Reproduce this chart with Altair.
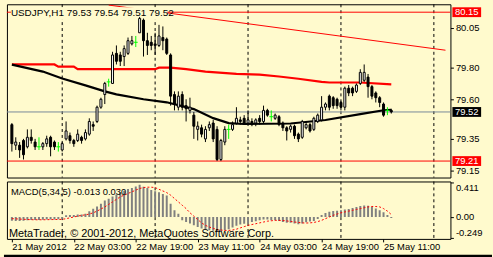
import altair as alt
import pandas as pd

BG = "#FFFACD"
FONT = "Liberation Sans"

symbol = "USDJPY"
timeframe = "H1"

opens = [79.44,79.31,79.31,79.34,79.30,79.36,79.33,79.30,79.30,79.32,
         79.36,79.33,79.30,79.28,79.35,79.37,79.34,79.34,79.36,79.35,
         79.38,79.44,79.46,79.55,79.63,79.71,79.70,79.89,79.88,79.87,
         79.89,79.95,79.96,80.02,80.10,79.97,79.96,79.95,79.94,79.99,
         79.98,79.88,79.63,79.55,79.63,79.56,79.53,79.50,79.41,79.42,
         79.35,79.42,79.45,79.41,79.22,79.33,79.41,79.41,79.45,79.47,
         79.48,79.45,79.46,79.45,79.48,79.46,79.53,79.49,79.48,79.49,
         79.45,79.42,79.41,79.43,79.38,79.36,79.42,79.44,79.41,79.46,
         79.47,79.55,79.62,79.61,79.60,79.58,79.55,79.67,79.67,79.65,
         79.70,79.72,79.74,79.68,79.64,79.61,79.57,79.53,79.53]
highs = [79.45,79.36,79.33,79.35,79.41,79.41,79.35,79.36,79.33,79.37,
         79.37,79.34,79.33,79.33,79.46,79.39,79.35,79.41,79.37,79.41,
         79.48,79.46,79.56,79.61,79.71,79.73,79.90,79.94,79.90,79.94,
         79.99,80.00,80.00,80.12,80.11,80.02,80.00,80.02,80.07,80.06,
         79.99,79.89,79.65,79.65,79.65,79.60,79.61,79.52,79.46,79.44,
         79.43,79.46,79.47,79.43,79.35,79.43,79.44,79.46,79.55,79.49,
         79.50,79.53,79.48,79.48,79.50,79.56,79.54,79.53,79.51,79.50,
         79.46,79.43,79.44,79.44,79.39,79.47,79.46,79.45,79.49,79.51,
         79.62,79.58,79.63,79.62,79.61,79.59,79.68,79.69,79.68,79.70,
         79.79,79.82,79.76,79.69,79.65,79.62,79.58,79.55,79.54]
lows = [79.27,79.28,79.23,79.22,79.29,79.32,79.28,79.28,79.28,79.30,
        79.24,79.28,79.27,79.27,79.34,79.32,79.30,79.33,79.32,79.34,
        79.37,79.40,79.45,79.54,79.57,79.68,79.70,79.82,79.81,79.81,
        79.88,79.94,79.93,80.02,79.87,79.88,79.91,79.88,79.93,79.91,
        79.88,79.56,79.53,79.53,79.53,79.46,79.51,79.35,79.34,79.36,
        79.33,79.40,79.33,79.21,79.21,79.31,79.35,79.40,79.44,79.44,
        79.44,79.44,79.43,79.43,79.44,79.45,79.49,79.46,79.47,79.43,
        79.40,79.34,79.39,79.35,79.33,79.35,79.41,79.39,79.40,79.45,
        79.46,79.53,79.53,79.54,79.54,79.53,79.53,79.62,79.62,79.64,
        79.69,79.71,79.61,79.60,79.58,79.55,79.49,79.50,79.51]
closes = [79.32,79.33,79.28,79.25,79.36,79.34,79.30,79.30,79.32,79.35,
          79.30,79.30,79.30,79.32,79.40,79.34,79.32,79.38,79.34,79.39,
          79.46,79.43,79.55,79.60,79.70,79.71,79.88,79.84,79.84,79.92,
          79.97,79.97,79.96,80.11,79.97,79.94,79.94,79.94,80.00,79.97,
          79.89,79.62,79.57,79.62,79.55,79.54,79.55,79.43,79.43,79.38,
          79.41,79.44,79.35,79.22,79.34,79.41,79.41,79.44,79.48,79.46,
          79.45,79.47,79.44,79.47,79.46,79.53,79.50,79.49,79.50,79.44,
          79.42,79.40,79.43,79.37,79.35,79.46,79.44,79.40,79.48,79.50,
          79.55,79.57,79.55,79.56,79.56,79.55,79.67,79.64,79.64,79.69,
          79.77,79.77,79.68,79.62,79.61,79.58,79.50,79.53,79.52]

macd_hist = [-0.045,-0.047,-0.047,-0.045,-0.040,-0.037,-0.035,-0.035,-0.033,-0.030,
             -0.030,-0.030,-0.028,-0.020,0.020,0.025,0.025,0.030,0.030,0.040,
             0.067,0.098,0.126,0.157,0.197,0.216,0.244,0.267,0.295,0.314,
             0.334,0.346,0.362,0.385,0.360,0.346,0.322,0.307,0.295,0.275,
             0.255,0.157,0.079,0.040,-0.040,-0.059,-0.079,-0.098,-0.118,-0.138,
             -0.149,-0.157,-0.165,-0.175,-0.170,-0.160,-0.145,-0.125,-0.105,-0.090,
             -0.080,-0.075,-0.060,-0.050,-0.040,-0.030,-0.030,-0.040,-0.040,-0.047,
             -0.060,-0.070,-0.070,-0.079,-0.086,-0.079,-0.063,-0.055,-0.047,-0.024,
             0.024,0.047,0.063,0.070,0.075,0.079,0.090,0.094,0.106,0.118,
             0.130,0.138,0.134,0.118,0.102,0.079,0.055,0.024,-0.013]
macd_signal = [-0.020,-0.022,-0.025,-0.027,-0.030,-0.032,-0.033,-0.033,-0.033,-0.032,
               -0.031,-0.030,-0.030,-0.028,-0.020,-0.010,0.000,0.010,0.020,0.025,
               0.035,0.050,0.070,0.095,0.120,0.150,0.180,0.210,0.240,0.260,
               0.280,0.300,0.320,0.340,0.350,0.355,0.355,0.350,0.330,0.310,
               0.290,0.260,0.220,0.180,0.140,0.100,0.050,0.010,-0.030,-0.070,
               -0.100,-0.120,-0.135,-0.150,-0.155,-0.160,-0.160,-0.155,-0.145,-0.130,
               -0.115,-0.100,-0.090,-0.080,-0.070,-0.060,-0.050,-0.045,-0.040,-0.040,
               -0.042,-0.047,-0.053,-0.060,-0.065,-0.070,-0.072,-0.070,-0.065,-0.055,
               -0.040,-0.020,0.000,0.020,0.035,0.050,0.060,0.070,0.080,0.090,
               0.100,0.110,0.120,0.125,0.125,0.120,0.100,0.070,0.030]
macd_params = (5, 34, 5)

red_ma_bar = [0, 11, 12, 16, 17, 37, 38, 41, 45, 50, 58, 64, 69, 74, 80, 82, 90, 98]
red_ma_val = [79.82, 79.82, 79.806, 79.806, 79.79, 79.79, 79.80, 79.80, 79.79, 79.775,
              79.76, 79.756, 79.744, 79.73, 79.71, 79.706, 79.706, 79.694]
black_ma_bar = [0, 8, 13, 19, 24, 27, 34, 40, 47, 52, 56, 60, 72, 81, 90, 96, 98]
black_ma_val = [79.819, 79.775, 79.731, 79.688, 79.65, 79.631, 79.60, 79.581, 79.538,
                79.481, 79.45, 79.444, 79.447, 79.469, 79.506, 79.531, 79.534]

trend_bar = [25, 112]
trend_val = [80.195, 79.91]

level_high = 80.15
level_low = 79.21
bid_price = closes[-1]

grid_bars = [13, 37, 61, 85, 109]
time_tick_bars = [0, 16, 32, 48, 64, 80, 96]
time_tick_labels = ["21 May 2012", "22 May 03:00", "22 May 19:00", "23 May 11:00",
                    "24 May 03:00", "24 May 19:00", "25 May 11:00"]
price_ticks = [80.05, 79.80, 79.60, 79.35, 79.15]
macd_ticks = [0.411, 0.0, -0.249]

W, H_MAIN, H_MACD = 448, 175, 58

xscale = alt.Scale(domain=[0, 112], nice=False, zero=False)
pscale = alt.Scale(domain=[79.106, 80.2], nice=False, zero=False)
mscale = alt.Scale(domain=[-0.261, 0.423], nice=False, zero=False)

price_axis = alt.Axis(orient="right", values=price_ticks, format=".2f", title=None,
                      grid=False, domain=False, tickSize=3, labelPadding=2,
                      labelFontSize=9.5, labelBaseline="middle")

candles = pd.DataFrame({"i": list(range(len(opens))), "o": opens, "h": highs,
                        "l": lows, "c": closes})


def XP(f):
    return alt.X(f, scale=xscale, axis=None)


def YP(f):
    return alt.Y(f, scale=pscale, axis=price_axis)


grid_df = pd.DataFrame({"g": grid_bars})
grid_main = alt.Chart(grid_df).mark_rule(color="black", strokeDash=[3, 3], strokeWidth=1).encode(
    x=XP("g:Q"))

levels = pd.DataFrame({"v": [level_high, level_low, bid_price],
                       "col": ["#FF0000", "#FF0000", "#778899"]})
hlines = alt.Chart(levels).mark_rule(strokeWidth=1).encode(
    y=YP("v:Q"), color=alt.Color("col:N", scale=None))

trend = alt.Chart(pd.DataFrame({"i": trend_bar, "p": trend_val})).mark_line(
    color="#FF0000", strokeWidth=1, clip=True).encode(x=XP("i:Q"), y=YP("p:Q"))

red_ma = alt.Chart(pd.DataFrame({"i": red_ma_bar, "p": red_ma_val})).mark_line(
    color="#FF0000", strokeWidth=2.2, interpolate="linear").encode(x=XP("i:Q"), y=YP("p:Q"))
black_ma = alt.Chart(pd.DataFrame({"i": black_ma_bar, "p": black_ma_val})).mark_line(
    color="black", strokeWidth=2.2).encode(x=XP("i:Q"), y=YP("p:Q"))

mask = alt.Chart(pd.DataFrame({"a": [0]})).mark_rect(color=BG).encode(
    x=alt.value(4), x2=alt.value(162), y=alt.value(3), y2=alt.value(15))

wicks = alt.Chart(candles).mark_rule(strokeWidth=1, clip=True).encode(
    x=XP("i:Q"), y=YP("l:Q"), y2="h:Q",
    color=alt.condition("datum.o == datum.c", alt.value("#00FF00"), alt.value("black")))

bodies = alt.Chart(candles).transform_filter("datum.o != datum.c").mark_bar(
    size=2, stroke="black", strokeWidth=1, clip=True).encode(
    x=XP("i:Q"), y=YP("o:Q"), y2="c:Q",
    fill=alt.condition("datum.c > datum.o", alt.value("white"), alt.value("black")))

dojis = alt.Chart(candles).transform_filter("datum.o == datum.c").transform_calculate(
    a="datum.i - 0.5", b="datum.i + 0.5").mark_rule(color="#00FF00", strokeWidth=1).encode(
    x=XP("a:Q"), x2="b:Q", y=YP("c:Q"))

header_text = "%s,%s  %.2f %.2f %.2f %.2f" % (symbol, timeframe, opens[-1], highs[-1], lows[-1], closes[-1])
header = alt.Chart(pd.DataFrame({"t": [header_text]})).mark_text(
    align="left", baseline="alphabetic", fontSize=10, font=FONT, color="black").encode(
    x=alt.value(4), y=alt.value(12), text="t:N")

boxes_df = pd.DataFrame({"p": [level_high, bid_price, level_low],
                         "fill": ["#FF0000", "#000000", "#FF0000"]})
boxes = alt.Chart(boxes_df).transform_calculate(
    top="datum.p + 0.031", bot="datum.p - 0.031").mark_rect(clip=False).encode(
    x=alt.value(450), x2=alt.value(479), y=YP("top:Q"), y2="bot:Q",
    fill=alt.Color("fill:N", scale=None))
box_text = alt.Chart(boxes_df).mark_text(
    color="white", fontSize=9.5, font=FONT, align="center", baseline="middle", clip=False).encode(
    x=alt.value(464.5), y=YP("p:Q"), text=alt.Text("p:Q", format=".2f"))

main = alt.layer(grid_main, hlines, trend, red_ma, black_ma, mask, wicks, bodies, dojis,
                 header, boxes, box_text).properties(width=W, height=H_MAIN)

# ---------- MACD panel ----------
label_list = "[" + ",".join("'%s'" % s for s in time_tick_labels) + "]"
time_axis = alt.Axis(values=time_tick_bars, labelExpr=label_list + "[round(datum.value/16)]",
                     labelAlign="left", labelBaseline="top", tickSize=3, domain=False,
                     grid=False, title=None, labelFontSize=9.5, labelPadding=0,
                     labelOverlap=False, labelFlush=False, labelBound=False)

macd_axis = alt.Axis(orient="right", values=macd_ticks, title=None, grid=False, domain=False,
                     tickSize=3, labelPadding=2, labelFontSize=9.5,
                     labelExpr="datum.value == 0 ? '0.00' : '' + datum.value",
                     labelBaseline={"condition": [{"test": "datum.value > 0.2", "value": "top"},
                                                  {"test": "datum.value < -0.2", "value": "bottom"}],
                                    "value": "middle"})


def XM(f):
    return alt.X(f, scale=xscale, axis=time_axis)


def YM(f):
    return alt.Y(f, scale=mscale, axis=macd_axis)


macd_df = pd.DataFrame({"i": list(range(len(macd_hist))), "h": macd_hist, "s": macd_signal})

grid_macd = alt.Chart(grid_df).mark_rule(color="black", strokeDash=[3, 3], strokeWidth=1).encode(
    x=XM("g:Q"))
hist = alt.Chart(macd_df).mark_bar(size=2, color="#808080", clip=True).encode(
    x=XM("i:Q"), y=YM("h:Q"), y2=alt.datum(0))
signal = alt.Chart(macd_df).mark_line(color="#FF0000", strokeWidth=1, strokeDash=[2, 2]).encode(
    x=XM("i:Q"), y=YM("s:Q"))

macd_label = "MACD(%d,%d,%d) %.3f %.3f" % (macd_params + (macd_hist[-1], macd_signal[-1]))
macd_text = alt.Chart(pd.DataFrame({"t": [macd_label]})).mark_text(
    align="left", baseline="alphabetic", fontSize=9.5, font=FONT, color="black").encode(
    x=alt.value(4), y=alt.value(14), text="t:N")
copyright_text = alt.Chart(pd.DataFrame({"t": ["MetaTrader, \u00a9 2001-2012, MetaQuotes Software Corp."]})).mark_text(
    align="left", baseline="alphabetic", fontSize=11, font=FONT, color="black").encode(
    x=alt.value(2), y=alt.value(56), text="t:N")

frame = alt.Chart(pd.DataFrame({"a": [0]})).mark_rect(color="black", clip=False).encode(
    x=alt.value(-3), x2=alt.value(490), y=alt.value(74), y2=alt.value(78))

macd = alt.layer(grid_macd, hist, signal, macd_text, copyright_text, frame).properties(
    width=W, height=H_MACD)

chart = alt.vconcat(main, macd, spacing=2).properties(
    padding={"left": 3, "top": 2, "right": 0, "bottom": 0}, background=BG
).configure_view(stroke="black", strokeWidth=1).configure_axis(
    labelFont=FONT, labelColor="black", tickColor="black", grid=False)

chart.save("out.html", embed_options={"renderer": "svg", "actions": False})
